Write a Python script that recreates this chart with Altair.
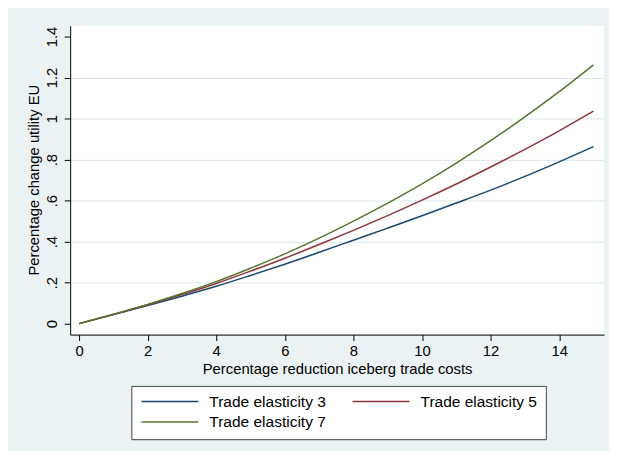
import altair as alt
import pandas as pd

# ---- data ----
x_vals = [0, 1, 2, 3, 4, 5, 6, 7, 8, 9, 10, 11, 12, 13, 14, 15]
elast3 = [0, 0.044, 0.088, 0.134, 0.182, 0.235, 0.290, 0.348, 0.407, 0.466, 0.526, 0.588, 0.651, 0.718, 0.789, 0.863]
elast5 = [0, 0.045, 0.092, 0.142, 0.196, 0.256, 0.319, 0.386, 0.455, 0.527, 0.602, 0.681, 0.764, 0.850, 0.940, 1.036]
elast7 = [0, 0.046, 0.094, 0.147, 0.205, 0.270, 0.340, 0.417, 0.500, 0.588, 0.682, 0.783, 0.892, 1.008, 1.131, 1.262]
series_names = ["Trade elasticity 3", "Trade elasticity 5", "Trade elasticity 7"]
series_colors = ["#1A476F", "#90353B", "#55752F"]
x_ticks = [0, 2, 4, 6, 8, 10, 12, 14]
y_ticks = [0, 0.2, 0.4, 0.6, 0.8, 1.0, 1.2, 1.4]

rows = []
for name, vals in zip(series_names, [elast3, elast5, elast7]):
    for xv, yv in zip(x_vals, vals):
        rows.append({"x": xv, "y": yv, "series": name})
df = pd.DataFrame(rows)

FONT = "Liberation Sans"
FS = 15

chart = alt.Chart(df).mark_line(strokeWidth=1.5, interpolate="monotone").encode(
    x=alt.X("x:Q",
            scale=alt.Scale(domain=[-0.259, 15.309], nice=False, zero=False),
            axis=alt.Axis(values=x_ticks, format="d", grid=False, tickSize=6,
                          labelPadding=3, labelFlush=False, labelOverlap=False,
                          title="Percentage reduction iceberg trade costs",
                          titleBaseline="alphabetic", titleY=39)),
    y=alt.Y("y:Q",
            scale=alt.Scale(domain=[-0.0534, 1.4528], nice=False, zero=False),
            axis=alt.Axis(values=y_ticks,
                          labelExpr="datum.value == 0 ? '0' : (datum.value == 1 ? '1' : (datum.value < 1 ? substring(format(datum.value, '.1f'), 1) : format(datum.value, '.1f')))",
                          labelAngle=270, labelAlign="center", labelBaseline="alphabetic",
                          labelPadding=8, tickSize=6, labelFlush=False, labelOverlap=False,
                          grid=True, gridColor="#DCE6E9", gridWidth=1,
                          gridOpacity={"condition": {"test": "datum.value < 0.1 || datum.value > 1.3", "value": 0}, "value": 1},
                          title="Percentage change utility EU",
                          titleAngle=270, titleBaseline="alphabetic", titleAlign="center",
                          titleX=-32, titleY=156)),
    color=alt.Color("series:N",
                    scale=alt.Scale(domain=series_names, range=series_colors),
                    legend=alt.Legend(orient="none", legendX=62, legendY=365, columns=2,
                                      direction="horizontal",
                                      title=None, symbolType="stroke", symbolSize=3318,
                                      symbolStrokeWidth=1.5, symbolOffset=0, labelOffset=10,
                                      clipHeight=13, rowPadding=4, columnPadding=26,
                                      padding=9, strokeColor="#404040", fillColor="white",
                                      labelFontSize=15.7, labelFont=FONT, labelColor="black",
                                      labelLimit=0)),
).properties(
    width=541, height=313,
    autosize=alt.AutoSizeParams(type="none"),
    padding={"left": 63, "top": 15, "right": 5, "bottom": 115},
    background="#EAF2F3",
).configure_view(
    fill="white", strokeWidth=0,
).configure_axis(
    labelFont=FONT, titleFont=FONT, labelFontSize=FS, titleFontSize=FS,
    labelColor="black", titleColor="black", titleFontWeight="normal",
    domainColor="black", tickColor="black", domainWidth=1, tickWidth=1,
)

chart.save("out.html", embed_options={"renderer": "svg", "actions": False})
